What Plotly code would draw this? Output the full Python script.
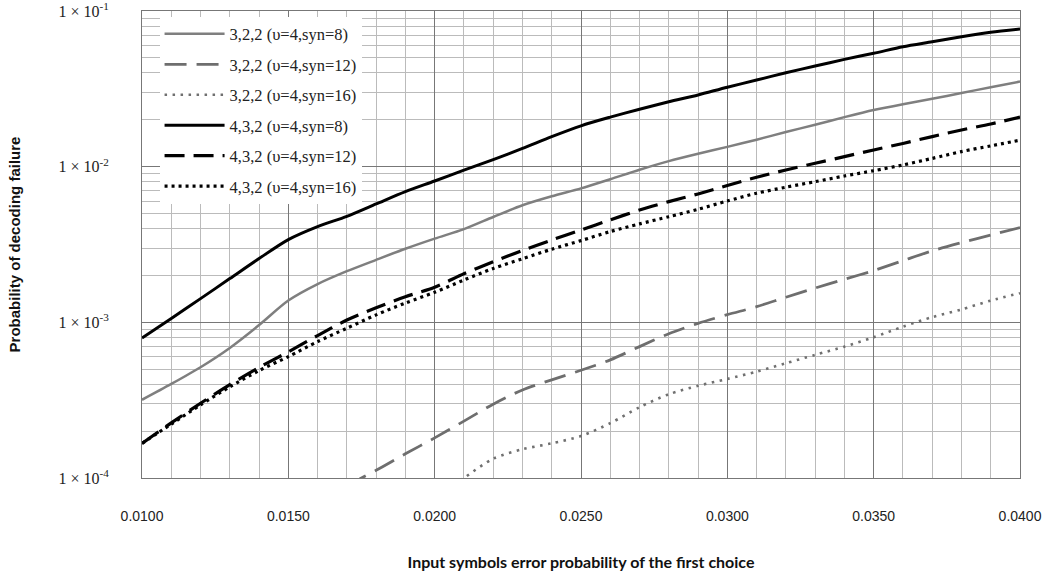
import plotly.graph_objects as go

# ---- data ----
x_full = [0.010, 0.011, 0.012, 0.013, 0.014, 0.015, 0.016, 0.017, 0.018, 0.019,
          0.020, 0.021, 0.022, 0.023, 0.024, 0.025, 0.026, 0.027, 0.028, 0.029,
          0.030, 0.031, 0.032, 0.033, 0.034, 0.035, 0.036, 0.037, 0.038, 0.039, 0.040]

y_322_syn8 = [3.18e-4, 4.02e-4, 5.15e-4, 6.85e-4, 9.6e-4, 1.38e-3, 1.76e-3, 2.13e-3, 2.52e-3, 2.97e-3,
              3.45e-3, 3.97e-3, 4.75e-3, 5.65e-3, 6.45e-3, 7.25e-3, 8.30e-3, 9.55e-3, 1.085e-2, 1.21e-2,
              1.34e-2, 1.49e-2, 1.67e-2, 1.86e-2, 2.08e-2, 2.31e-2, 2.52e-2, 2.73e-2, 2.97e-2, 3.24e-2, 3.52e-2]

x_322_syn12 = [0.017, 0.0175, 0.018, 0.019, 0.020, 0.021, 0.022, 0.023, 0.024, 0.025, 0.026, 0.027,
               0.028, 0.029, 0.030, 0.031, 0.032, 0.033, 0.034, 0.035, 0.036, 0.037, 0.038, 0.039, 0.040]
y_322_syn12 = [8.8e-5, 1.0e-4, 1.12e-4, 1.43e-4, 1.81e-4, 2.32e-4, 2.98e-4, 3.68e-4, 4.27e-4, 4.92e-4,
               5.74e-4, 6.98e-4, 8.45e-4, 9.85e-4, 1.12e-3, 1.26e-3, 1.45e-3, 1.66e-3, 1.89e-3, 2.15e-3,
               2.49e-3, 2.88e-3, 3.25e-3, 3.64e-3, 4.06e-3]

x_322_syn16 = [0.020, 0.021, 0.022, 0.023, 0.024, 0.025, 0.026, 0.027, 0.028, 0.029, 0.030,
               0.031, 0.032, 0.033, 0.034, 0.035, 0.036, 0.037, 0.038, 0.039, 0.040]
y_322_syn16 = [7.3e-5, 1.0e-4, 1.33e-4, 1.53e-4, 1.67e-4, 1.86e-4, 2.25e-4, 2.85e-4, 3.45e-4, 3.91e-4, 4.33e-4,
               4.82e-4, 5.46e-4, 6.18e-4, 6.98e-4, 8.02e-4, 9.38e-4, 1.08e-3, 1.21e-3, 1.38e-3, 1.54e-3]

y_432_syn8 = [7.94e-4, 1.06e-3, 1.42e-3, 1.91e-3, 2.57e-3, 3.40e-3, 4.12e-3, 4.80e-3, 5.76e-3, 6.91e-3,
              8.09e-3, 9.50e-3, 1.11e-2, 1.31e-2, 1.56e-2, 1.83e-2, 2.08e-2, 2.34e-2, 2.61e-2, 2.89e-2,
              3.24e-2, 3.60e-2, 4.01e-2, 4.43e-2, 4.89e-2, 5.35e-2, 5.90e-2, 6.35e-2, 6.84e-2, 7.30e-2, 7.66e-2]

y_432_syn12 = [1.67e-4, 2.26e-4, 3.02e-4, 3.98e-4, 5.13e-4, 6.46e-4, 8.22e-4, 1.035e-3, 1.24e-3, 1.46e-3,
               1.68e-3, 2.05e-3, 2.45e-3, 2.89e-3, 3.38e-3, 3.92e-3, 4.55e-3, 5.27e-3, 5.96e-3, 6.68e-3,
               7.57e-3, 8.55e-3, 9.52e-3, 1.052e-2, 1.16e-2, 1.28e-2, 1.41e-2, 1.56e-2, 1.72e-2, 1.88e-2, 2.08e-2]

y_432_syn16 = [1.67e-4, 2.22e-4, 2.95e-4, 3.85e-4, 4.90e-4, 6.02e-4, 7.52e-4, 9.17e-4, 1.117e-3, 1.33e-3,
               1.56e-3, 1.87e-3, 2.22e-3, 2.56e-3, 2.95e-3, 3.35e-3, 3.83e-3, 4.29e-3, 4.77e-3, 5.32e-3,
               6.02e-3, 6.75e-3, 7.38e-3, 8.01e-3, 8.71e-3, 9.42e-3, 1.026e-2, 1.13e-2, 1.25e-2, 1.36e-2, 1.48e-2]

series_names = ["3,2,2 (υ=4,syn=8)", "3,2,2 (υ=4,syn=12)", "3,2,2 (υ=4,syn=16)",
                "4,3,2 (υ=4,syn=8)", "4,3,2 (υ=4,syn=12)", "4,3,2 (υ=4,syn=16)"]

x_tick_vals = [0.010, 0.015, 0.020, 0.025, 0.030, 0.035, 0.040]
x_tick_text = ["0.0100", "0.0150", "0.0200", "0.0250", "0.0300", "0.0350", "0.0400"]
y_tick_vals = [1e-4, 1e-3, 1e-2, 1e-1]
y_tick_text = ["1 × 10<sup>-4</sup>", "1 × 10<sup>-3</sup>", "1 × 10<sup>-2</sup>", "1 × 10<sup>-1</sup>"]

# ---- styles ----
styles = [
    dict(color="#7f7f7f", width=2.5, dash="solid"),
    dict(color="#6e6e6e", width=2.8, dash="22px,10px"),
    dict(color="#707070", width=2.6, dash="2.5px,5.5px"),
    dict(color="#000000", width=3.0, dash="solid"),
    dict(color="#000000", width=3.2, dash="20px,9px"),
    dict(color="#000000", width=3.2, dash="3px,4px"),
]
xs = [x_full, x_322_syn12, x_322_syn16, x_full, x_full, x_full]
ys = [y_322_syn8, y_322_syn12, y_322_syn16, y_432_syn8, y_432_syn12, y_432_syn16]

fig = go.Figure()
for i, (name, xv, yv, st) in enumerate(zip(series_names, xs, ys, styles)):
    fig.add_trace(go.Scatter(x=xv, y=yv, mode="lines", name=name,
                             legendgroup=f"g{i}",
                             line=dict(color=st["color"], width=st["width"],
                                       dash=st["dash"], shape="spline", smoothing=0.8)))

minor_y = [m * 10 ** e for e in (-4, -3, -2) for m in range(2, 10)]

fig.update_layout(
    width=1049, height=576,
    margin=dict(l=142, r=29, t=11, b=98, autoexpand=False),
    paper_bgcolor="white", plot_bgcolor="white",
    showlegend=True,
    legend=dict(x=0.02, y=0.988, xanchor="left", yanchor="top",
                bgcolor="white", borderwidth=0, itemwidth=60,
                font=dict(family="Liberation Serif", size=16.5, color="#222"),
                traceorder="grouped", tracegroupgap=6),
    xaxis=dict(range=[0.010, 0.040], tickvals=x_tick_vals, ticktext=x_tick_text,
               showgrid=True, gridcolor="#777777", gridwidth=1,
               minor=dict(dtick=0.001, tick0=0.010, showgrid=True, gridcolor="#bbbbbb", gridwidth=1),
               showline=True, linecolor="#777777", linewidth=1, mirror=True,
               ticks="", ticklabelstandoff=25, zeroline=False,
               tickfont=dict(family="Liberation Sans", size=14, color="#222"),
               title=dict(text="Input symbols error probability of the first choice",
                          font=dict(family="Lato", size=16, color="#111", weight="bold"),
                          standoff=34)),
    yaxis=dict(type="log", range=[-4, -1], tickvals=y_tick_vals, ticktext=y_tick_text,
               showgrid=True, gridcolor="#777777", gridwidth=1,
               minor=dict(tickvals=minor_y, showgrid=True, gridcolor="#bbbbbb", gridwidth=1),
               showline=True, linecolor="#777777", linewidth=1, mirror=True,
               ticks="", ticklabelstandoff=29, zeroline=False, ticklabeloverflow="allow",
               tickfont=dict(family="Liberation Serif", size=16, color="#222"),
               title=dict(text="Probability of decoding failure",
                          font=dict(family="Liberation Sans", size=15, color="#111", weight="bold"),
                          standoff=34)),
)

fig.write_html("out.html")
